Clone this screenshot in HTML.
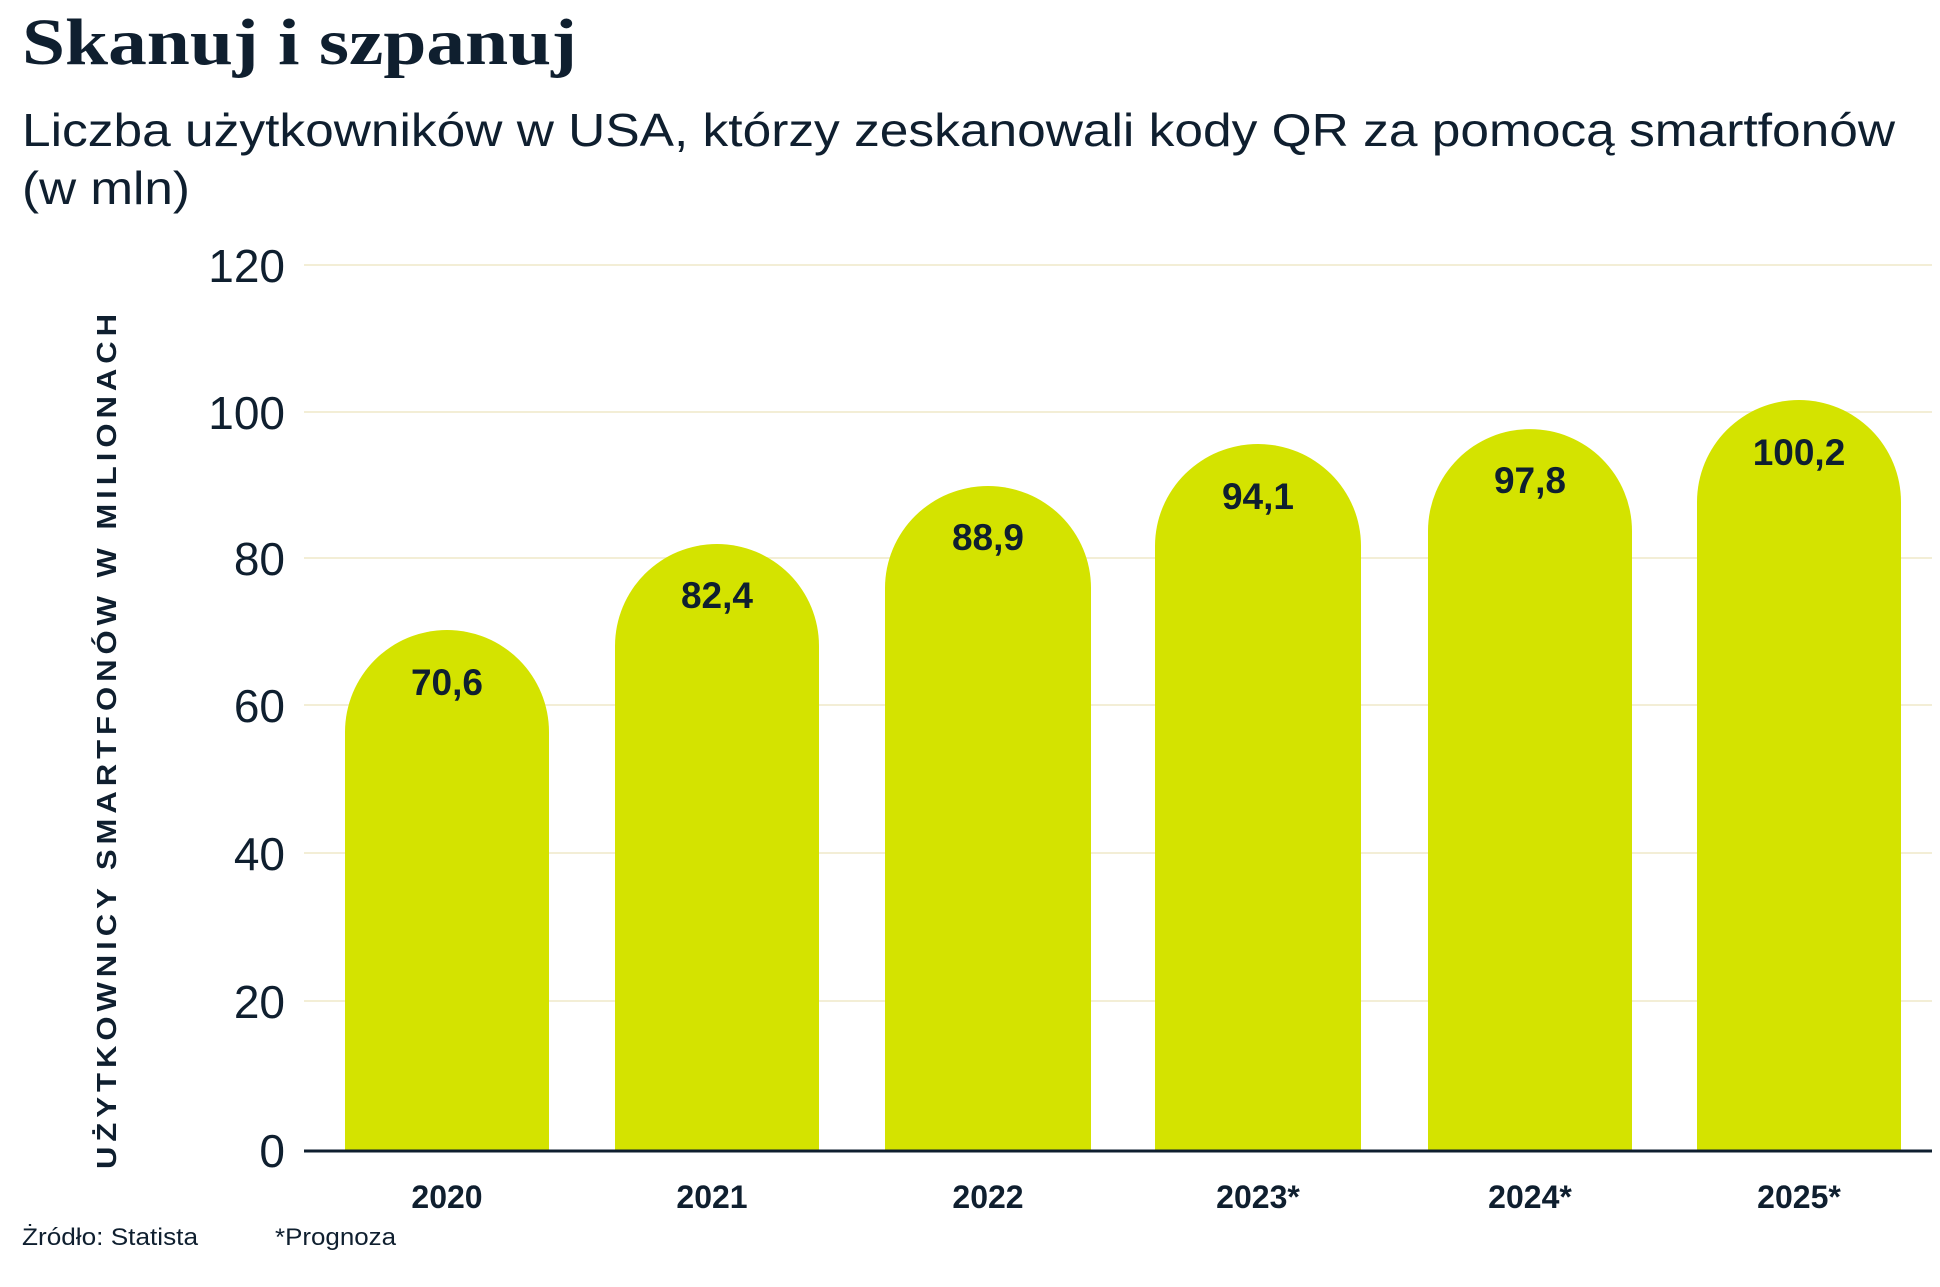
<!DOCTYPE html>
<html><head><meta charset="utf-8"><style>
body{margin:0;background:#fff;}
svg text{fill:#0f1f2f;}
</style></head><body>
<svg width="1940" height="1282" xmlns="http://www.w3.org/2000/svg">
<text x="22" y="64" font-family="Liberation Serif, serif" font-weight="bold" font-size="66" textLength="555" lengthAdjust="spacingAndGlyphs">Skanuj i szpanuj</text>
<text x="22" y="146" font-family="Liberation Sans, sans-serif" font-size="46" textLength="1873" lengthAdjust="spacingAndGlyphs">Liczba użytkowników w USA, którzy zeskanowali kody QR za pomocą smartfonów</text>
<text x="22" y="204" font-family="Liberation Sans, sans-serif" font-size="46" textLength="168" lengthAdjust="spacingAndGlyphs">(w mln)</text>
<g stroke="#f3eed6" stroke-width="2">
<line x1="304" x2="1932" y1="265" y2="265"/><line x1="304" x2="1932" y1="412" y2="412"/>
<line x1="304" x2="1932" y1="558" y2="558"/><line x1="304" x2="1932" y1="705" y2="705"/>
<line x1="304" x2="1932" y1="853" y2="853"/><line x1="304" x2="1932" y1="1001" y2="1001"/>
</g>
<g font-family="Liberation Sans, sans-serif" font-size="46" text-anchor="end">
<text x="285" y="282">120</text><text x="285" y="429">100</text><text x="285" y="575">80</text>
<text x="285" y="722">60</text><text x="285" y="870">40</text><text x="285" y="1018">20</text><text x="285" y="1167">0</text>
</g>
<text transform="translate(116,739) rotate(-90)" text-anchor="middle" font-family="Liberation Sans, sans-serif" font-weight="bold" font-size="28" letter-spacing="4.5" textLength="860" lengthAdjust="spacingAndGlyphs">UŻYTKOWNICY SMARTFONÓW W MILIONACH</text>
<g fill="#d4e300">
<path d="M345 1151 V732 A102 102 0 0 1 549 732 V1151Z"/>
<path d="M615 1151 V646 A102 102 0 0 1 819 646 V1151Z"/>
<path d="M885 1151 V588 A103 102 0 0 1 1091 588 V1151Z"/>
<path d="M1155 1151 V546 A103 102 0 0 1 1361 546 V1151Z"/>
<path d="M1428 1151 V531 A102 102 0 0 1 1632 531 V1151Z"/>
<path d="M1697 1151 V502 A102 102 0 0 1 1901 502 V1151Z"/>
</g>
<line x1="304" x2="1932" y1="1151" y2="1151" stroke="#0f1f2f" stroke-width="3"/>
<g font-family="Liberation Sans, sans-serif" font-weight="bold" font-size="37" text-anchor="middle">
<text x="447" y="695">70,6</text><text x="717" y="608">82,4</text><text x="988" y="550">88,9</text>
<text x="1258" y="509">94,1</text><text x="1530" y="493">97,8</text><text x="1799" y="465">100,2</text>
</g>
<g font-family="Liberation Sans, sans-serif" font-weight="bold" font-size="32" text-anchor="middle">
<text x="447" y="1208">2020</text><text x="712" y="1208">2021</text><text x="988" y="1208">2022</text>
<text x="1258" y="1208">2023*</text><text x="1530" y="1208">2024*</text><text x="1799" y="1208">2025*</text>
</g>
<g font-family="Liberation Sans, sans-serif" font-size="24">
<text x="22" y="1245" textLength="176" lengthAdjust="spacingAndGlyphs">Żródło: Statista</text><text x="275" y="1245" textLength="121" lengthAdjust="spacingAndGlyphs">*Prognoza</text>
</g>
</svg>
</body></html>
